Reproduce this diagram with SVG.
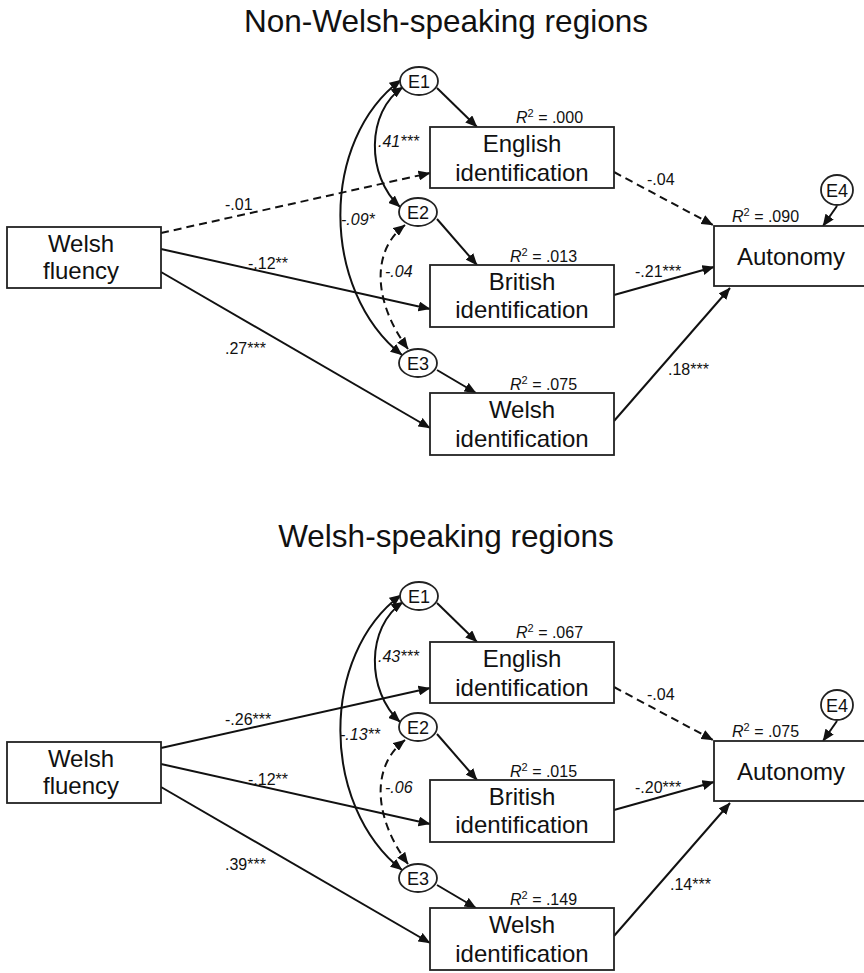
<svg xmlns="http://www.w3.org/2000/svg" width="864" height="973" viewBox="0 0 864 973">
<defs>
<style>
.title{font-family:"Liberation Sans",Arial,sans-serif;font-size:31.5px;fill:#111;text-anchor:middle}
.node{fill:#fff;stroke:#222;stroke-width:1.8}
.err{fill:#fff;stroke:#222;stroke-width:1.8}
.nt{font-family:"Liberation Sans",Arial,sans-serif;font-size:24px;fill:#111;text-anchor:middle}
.et{font-family:"Liberation Sans",Arial,sans-serif;font-size:18px;fill:#111;text-anchor:middle}
.lbl{font-family:"Liberation Sans",Arial,sans-serif;font-size:16px;fill:#111}
.it{font-style:italic}
.c{fill:none;stroke:#111;stroke-width:2;marker-end:url(#ah)}
.d{stroke-dasharray:8 5}
.b{marker-start:url(#ah)}
</style>
<marker id="ah" viewBox="0 0 12 10" refX="11.5" refY="5" markerWidth="12" markerHeight="10" markerUnits="userSpaceOnUse" orient="auto-start-reverse">
<path d="M0,0 L12,5 L0,10 z" fill="#111"/>
</marker>
</defs>
<rect width="864" height="973" fill="#fff"/>

<text class="title" x="446" y="32">Non-Welsh-speaking regions</text>
<text class="title" x="446" y="547">Welsh-speaking regions</text>

<!-- ===== Top panel ===== -->
<g id="top-panel">
<g id="connectors-top">
<path class="c d" d="M161,233 L430,173"/>
<path class="c" d="M161,249 L430,309"/>
<path class="c" d="M161,272 L430,428"/>
<path class="c" d="M437,88 L477,127"/>
<path class="c" d="M437,219 L477,265"/>
<path class="c" d="M437,370 L476,393"/>
<path class="c d" d="M614,172 L713,225"/>
<path class="c" d="M614,295 L714,267"/>
<path class="c" d="M614,421 L730,288"/>
<path class="c" d="M837,206 L823,226"/>
<path class="c b" d="M403,87 C366,112 366,176 400,207"/>
<path class="c b" d="M401,80 C320,140 320,290 402,355"/>
<path class="c b d" d="M405,225 C372,250 372,300 408,349"/>
<text class="lbl" x="225" y="210">-.01</text>
<text class="lbl" x="248" y="269">-.12**</text>
<text class="lbl" x="225" y="354">.27***</text>
<text class="lbl" x="647" y="185">-.04</text>
<text class="lbl" x="635" y="277">-.21***</text>
<text class="lbl" x="668" y="375">.18***</text>
<text class="lbl it" x="378" y="147">.41***</text>
<text class="lbl it" x="341" y="225">-.09*</text>
<text class="lbl it" x="385" y="277">-.04</text>
</g>
<g id="welsh-fluency-top">
<rect class="node" x="7" y="227" width="154" height="61"/>
<text class="nt" x="81" y="252">Welsh</text>
<text class="nt" x="81" y="279">fluency</text>
</g>
<g id="english-id-top">
<rect class="node" x="430" y="127" width="184" height="61"/>
<text class="nt" x="522" y="152">English</text>
<text class="nt" x="522" y="181">identification</text>
<text class="lbl" x="516" y="123"><tspan class="it">R</tspan><tspan dy="-6" font-size="11">2</tspan><tspan dy="6"> = .000</tspan></text>
</g>
<g id="british-id-top">
<rect class="node" x="430" y="265" width="184" height="62"/>
<text class="nt" x="522" y="290">British</text>
<text class="nt" x="522" y="318">identification</text>
<text class="lbl" x="510" y="262"><tspan class="it">R</tspan><tspan dy="-6" font-size="11">2</tspan><tspan dy="6"> = .013</tspan></text>
</g>
<g id="welsh-id-top">
<rect class="node" x="430" y="393" width="184" height="62"/>
<text class="nt" x="522" y="418">Welsh</text>
<text class="nt" x="522" y="447">identification</text>
<text class="lbl" x="510" y="390"><tspan class="it">R</tspan><tspan dy="-6" font-size="11">2</tspan><tspan dy="6"> = .075</tspan></text>
</g>
<g id="autonomy-top">
<rect class="node" x="714" y="226" width="160" height="60"/>
<text class="nt" x="791" y="265">Autonomy</text>
<text class="lbl" x="732" y="222"><tspan class="it">R</tspan><tspan dy="-6" font-size="11">2</tspan><tspan dy="6"> = .090</tspan></text>
</g>
<g id="e1-top"><ellipse class="err" cx="419" cy="81" rx="19" ry="14"/><text class="et" x="419" y="87.5">E1</text></g>
<g id="e2-top"><ellipse class="err" cx="418" cy="212" rx="19" ry="14"/><text class="et" x="418" y="218.5">E2</text></g>
<g id="e3-top"><ellipse class="err" cx="418" cy="363" rx="19" ry="14"/><text class="et" x="418" y="369.5">E3</text></g>
<g id="e4-top"><ellipse class="err" cx="837" cy="190" rx="16" ry="15"/><text class="et" x="837" y="196.5">E4</text></g>
</g>

<!-- ===== Bottom panel ===== -->
<g id="bottom-panel" transform="translate(0,515)">
<g id="connectors-bottom">
<path class="c" d="M161,233 L430,173"/>
<path class="c" d="M161,249 L430,309"/>
<path class="c" d="M161,272 L430,428"/>
<path class="c" d="M437,88 L477,127"/>
<path class="c" d="M437,219 L477,265"/>
<path class="c" d="M437,370 L476,393"/>
<path class="c d" d="M614,172 L713,225"/>
<path class="c" d="M614,295 L714,267"/>
<path class="c" d="M614,421 L730,288"/>
<path class="c" d="M837,206 L823,226"/>
<path class="c b" d="M403,87 C366,112 366,176 400,207"/>
<path class="c b" d="M401,80 C320,140 320,290 402,355"/>
<path class="c b d" d="M405,225 C372,250 372,300 408,349"/>
<text class="lbl" x="225" y="210">-.26***</text>
<text class="lbl" x="248" y="270">-.12**</text>
<text class="lbl" x="225" y="355">.39***</text>
<text class="lbl" x="647" y="185">-.04</text>
<text class="lbl" x="635" y="278">-.20***</text>
<text class="lbl" x="670" y="375">.14***</text>
<text class="lbl it" x="378" y="147">.43***</text>
<text class="lbl it" x="340" y="225">-.13**</text>
<text class="lbl it" x="385" y="278">-.06</text>
</g>
<g id="welsh-fluency-bottom">
<rect class="node" x="7" y="227" width="154" height="61"/>
<text class="nt" x="81" y="252">Welsh</text>
<text class="nt" x="81" y="279">fluency</text>
</g>
<g id="english-id-bottom">
<rect class="node" x="430" y="127" width="184" height="61"/>
<text class="nt" x="522" y="152">English</text>
<text class="nt" x="522" y="181">identification</text>
<text class="lbl" x="516" y="123"><tspan class="it">R</tspan><tspan dy="-6" font-size="11">2</tspan><tspan dy="6"> = .067</tspan></text>
</g>
<g id="british-id-bottom">
<rect class="node" x="430" y="265" width="184" height="62"/>
<text class="nt" x="522" y="290">British</text>
<text class="nt" x="522" y="318">identification</text>
<text class="lbl" x="510" y="262"><tspan class="it">R</tspan><tspan dy="-6" font-size="11">2</tspan><tspan dy="6"> = .015</tspan></text>
</g>
<g id="welsh-id-bottom">
<rect class="node" x="430" y="393" width="184" height="62"/>
<text class="nt" x="522" y="418">Welsh</text>
<text class="nt" x="522" y="447">identification</text>
<text class="lbl" x="510" y="390"><tspan class="it">R</tspan><tspan dy="-6" font-size="11">2</tspan><tspan dy="6"> = .149</tspan></text>
</g>
<g id="autonomy-bottom">
<rect class="node" x="714" y="226" width="160" height="60"/>
<text class="nt" x="791" y="265">Autonomy</text>
<text class="lbl" x="732" y="222"><tspan class="it">R</tspan><tspan dy="-6" font-size="11">2</tspan><tspan dy="6"> = .075</tspan></text>
</g>
<g id="e1-bottom"><ellipse class="err" cx="419" cy="81" rx="19" ry="14"/><text class="et" x="419" y="87.5">E1</text></g>
<g id="e2-bottom"><ellipse class="err" cx="418" cy="212" rx="19" ry="14"/><text class="et" x="418" y="218.5">E2</text></g>
<g id="e3-bottom"><ellipse class="err" cx="418" cy="363" rx="19" ry="14"/><text class="et" x="418" y="369.5">E3</text></g>
<g id="e4-bottom"><ellipse class="err" cx="837" cy="190" rx="16" ry="15"/><text class="et" x="837" y="196.5">E4</text></g>
</g>
</svg>
